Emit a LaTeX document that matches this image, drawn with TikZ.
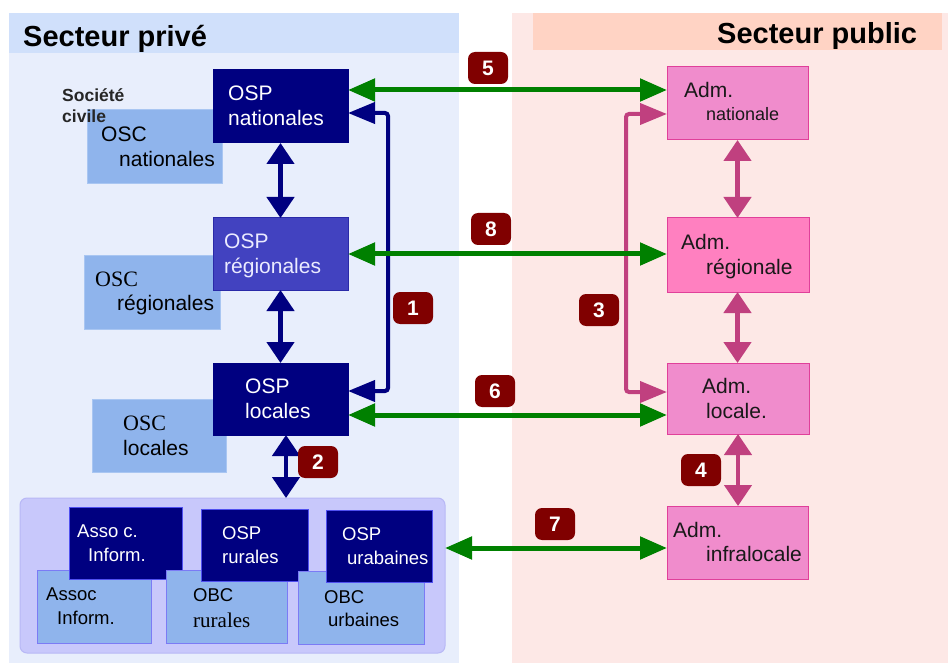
\documentclass[tikz,border=0pt]{standalone}
\usepackage{fontspec}
\setmainfont{Liberation Sans}
\newfontfamily\tms{Liberation Serif}
\usetikzlibrary{arrows.meta}
\definecolor{navy}{HTML}{000080}
\definecolor{oscfill}{HTML}{8FB4EC}
\definecolor{oscdraw}{HTML}{A9C6F2}
\definecolor{regfill}{HTML}{4242C0}
\definecolor{regdraw}{HTML}{2A2AA8}
\definecolor{pinkfill}{HTML}{F08CCC}
\definecolor{pinkdraw}{HTML}{E0409A}
\definecolor{pinkreg}{HTML}{FF80C0}
\definecolor{pinkarr}{HTML}{C0407F}
\definecolor{garr}{HTML}{008000}
\definecolor{badge}{HTML}{800000}
\definecolor{privbg}{HTML}{E8EEFC}
\definecolor{privhd}{HTML}{D0E0FB}
\definecolor{pubbg}{HTML}{FDE8E6}
\definecolor{pubhd}{HTML}{FFD3C4}
\definecolor{grpfill}{HTML}{C8C8FB}
\definecolor{grpdraw}{HTML}{B8B8F6}
\definecolor{lightdraw}{HTML}{7B7BF5}
\definecolor{navydraw}{HTML}{5050F0}
\tikzset{
  box/.style={anchor=north west, inner sep=0pt, outer sep=0pt, line width=1pt},
  wt/.style={anchor=base west, inner sep=0pt, font=\fontsize{21}{21}\selectfont},
  st/.style={anchor=base west, inner sep=0pt, font=\fontsize{18.5}{18.5}\selectfont},
  badgebox/.style={fill=badge, rounded corners=7pt, minimum width=40pt, minimum height=32pt, inner sep=0pt, text=white, font=\bfseries\fontsize{21}{21}\selectfont},
  harrow/.style={line width=5pt, {Triangle[length=27pt,width=22pt]}-{Triangle[length=27pt,width=22pt]}},
  varrow/.style={line width=4.5pt, {Triangle[length=21pt,width=27pt]}-{Triangle[length=21pt,width=27pt]}},
}
\begin{document}
\begin{tikzpicture}[x=1pt,y=-1pt]
\useasboundingbox (0,0) rectangle (948,663);
\fill[white] (0,0) rectangle (948,663);
% backgrounds
\fill[privbg] (9,13) rectangle (459,663);
\fill[privhd] (9,13) rectangle (459,53);
\fill[pubbg] (512,13) rectangle (948,663);
\fill[pubhd] (533,13) rectangle (942,50);
\node[anchor=base west, inner sep=0pt, font=\bfseries\fontsize{29}{29}\selectfont] (hpriv) at (23,47) {Secteur privé};
\node[anchor=base west, inner sep=0pt, font=\bfseries\fontsize{29}{29}\selectfont] (hpub) at (717,44) {Secteur public};

% private boxes
\node[box, fill=oscfill, draw=oscdraw, minimum width=135pt, minimum height=74pt] (oscnat) at (87,110) {};
\node[box, fill=navy, draw=navy, minimum width=135pt, minimum height=73pt] (ospnat) at (213,70) {};
\node[anchor=base west, inner sep=0pt, font=\bfseries\fontsize{17.5}{17.5}\selectfont, text=black!85] (soc1) at (62,102) {Société};
\node[anchor=base west, inner sep=0pt, font=\bfseries\fontsize{17.5}{17.5}\selectfont, text=black!85] (soc2) at (62,123) {civile};
\node[wt, text=white] (t1) at (228,101) {OSP};
\node[wt, text=white] (t2) at (228,126) {nationales};
\node[wt] (t3) at (101,142) {OSC};
\node[wt] (t4) at (119,167) {nationales};

\node[box, fill=oscfill, draw=oscdraw, minimum width=136pt, minimum height=73pt] (oscreg) at (84,256) {};
\node[box, fill=regfill, draw=regdraw, minimum width=135pt, minimum height=72pt] (ospreg) at (213,218) {};
\node[wt, text=white!92!blue] (t5) at (224,249) {OSP};
\node[wt, text=white!92!blue] (t6) at (224,273) {régionales};
\node[wt, font=\tms\fontsize{22}{22}\selectfont] (t7) at (95,287) {OSC};
\node[wt] (t8) at (117,310) {régionales};

\node[box, fill=oscfill, draw=oscdraw, minimum width=134pt, minimum height=73pt] (oscloc) at (92,399) {};
\node[box, fill=navy, draw=navy, minimum width=135pt, minimum height=72pt] (osploc) at (213,363) {};
\node[wt, text=white] (t9) at (245,393) {OSP};
\node[wt, text=white] (t10) at (245,418) {locales};
\node[wt, font=\tms\fontsize{22}{22}\selectfont] (t11) at (123,430) {OSC};
\node[wt] (t12) at (123,455) {locales};

% bottom group
\node[box, fill=grpfill, draw=grpdraw, rounded corners=7pt, minimum width=425pt, minimum height=155pt] (grp) at (20,498) {};
\node[box, fill=oscfill, draw=lightdraw, minimum width=114pt, minimum height=73pt] (assoc) at (37,570) {};
\node[box, fill=navy, draw=navydraw, minimum width=113pt, minimum height=72pt] (asso) at (69,507) {};
\node[box, fill=oscfill, draw=lightdraw, minimum width=121pt, minimum height=73pt] (obcrur) at (166,570) {};
\node[box, fill=navy, draw=navydraw, minimum width=107pt, minimum height=72pt] (osprur) at (201,509) {};
\node[box, fill=oscfill, draw=lightdraw, minimum width=126pt, minimum height=73pt] (obcurb) at (298,571) {};
\node[box, fill=navy, draw=navydraw, minimum width=106pt, minimum height=72pt] (ospurb) at (326,510) {};
\node[st, text=white] (t13) at (77,537) {Asso c.};
\node[st, text=white] (t14) at (88,561) {Inform.};
\node[st] (t15) at (46,600) {Assoc};
\node[st] (t16) at (57,624) {Inform.};
\node[st, text=white] (t17) at (222,539) {OSP};
\node[st, text=white] (t18) at (222,563) {rurales};
\node[st] (t19) at (193,601) {OBC};
\node[st, font=\tms\fontsize{21}{21}\selectfont] (t20) at (193,627) {rurales};
\node[st, text=white] (t21) at (342,540) {OSP};
\node[st, text=white] (t22) at (347,564) {urabaines};
\node[st] (t23) at (324,603) {OBC};
\node[st] (t24) at (328,626) {urbaines};

% public boxes
\node[box, fill=pinkfill, draw=pinkdraw, minimum width=141pt, minimum height=73pt] (admnat) at (667,67) {};
\node[wt, text=black!90] (p1) at (684,98) {Adm.};
\node[st, font=\fontsize{18}{18}\selectfont, text=black!90] (p2) at (706,121) {nationale};
\node[box, fill=pinkreg, draw=pinkdraw, minimum width=142pt, minimum height=74pt] (admreg) at (667,218) {};
\node[wt, text=black!90] (p3) at (681,250) {Adm.};
\node[wt, text=black!90] (p4) at (706,275) {régionale};
\node[box, fill=pinkfill, draw=pinkdraw, minimum width=142pt, minimum height=71pt] (admloc) at (667,363) {};
\node[wt, text=black!90] (p5) at (702,393) {Adm.};
\node[wt, text=black!90] (p6) at (706,418) {locale.};
\node[box, fill=pinkfill, draw=pinkdraw, minimum width=141pt, minimum height=73pt] (adminf) at (667,506) {};
\node[wt, text=black!90] (p7) at (673,537) {Adm.};
\node[wt, text=black!90] (p8) at (706,561) {infralocale};

% navy arrows
\draw[varrow, navy] (ospnat.south) -- (ospnat.south |- ospreg.north);
\draw[varrow, navy] (ospreg.south) -- (ospreg.south |- osploc.north);
\draw[varrow, navy] ([shift={(73,0)}]osploc.south west) -- ([shift={(266,0)}]grp.north west);
\draw[line width=4pt, navy, rounded corners=3pt, {Triangle[length=27pt,width=21pt]}-{Triangle[length=27pt,width=21pt]}]
  ([shift={(0,43)}]ospnat.north east) -- ++(40,0) |- ([shift={(0,28)}]osploc.north east);

% pink arrows
\draw[varrow, pinkarr] (admnat.south) -- (admnat.south |- admreg.north);
\draw[varrow, pinkarr] (admnat.south |- admreg.south) -- (admnat.south |- admloc.north);
\draw[varrow, pinkarr] (admloc.south) -- (admloc.south |- adminf.north);
\draw[line width=4pt, pinkarr, rounded corners=3pt, {Triangle[length=27pt,width=21pt]}-{Triangle[length=27pt,width=21pt]}]
  ([shift={(0,47)}]admnat.north west) -- ++(-41,0) |- ([shift={(0,29)}]admloc.north west);

% green arrows
\draw[harrow, garr] ([shift={(0,20)}]ospnat.north east) -- ([shift={(0,23)}]admnat.north west);
\draw[harrow, garr] ([shift={(0,36)}]ospreg.north east) -- ([shift={(0,36)}]admreg.north west);
\draw[harrow, garr] ([shift={(0,52)}]osploc.north east) -- ([shift={(0,52)}]admloc.north west);
\draw[harrow, garr] ([shift={(0,50)}]grp.north east) -- ([shift={(0,42)}]adminf.north west);

% badges
\node[badgebox] (b1) at (413,308) {1};
\node[badgebox] (b2) at (318,462) {2};
\node[badgebox] (b3) at (599,310) {3};
\node[badgebox] (b4) at (701,470) {4};
\node[badgebox] (b5) at (488,68) {5};
\node[badgebox] (b6) at (495,391) {6};
\node[badgebox] (b7) at (555,524) {7};
\node[badgebox] (b8) at (491,229) {8};
\end{tikzpicture}
\end{document}
